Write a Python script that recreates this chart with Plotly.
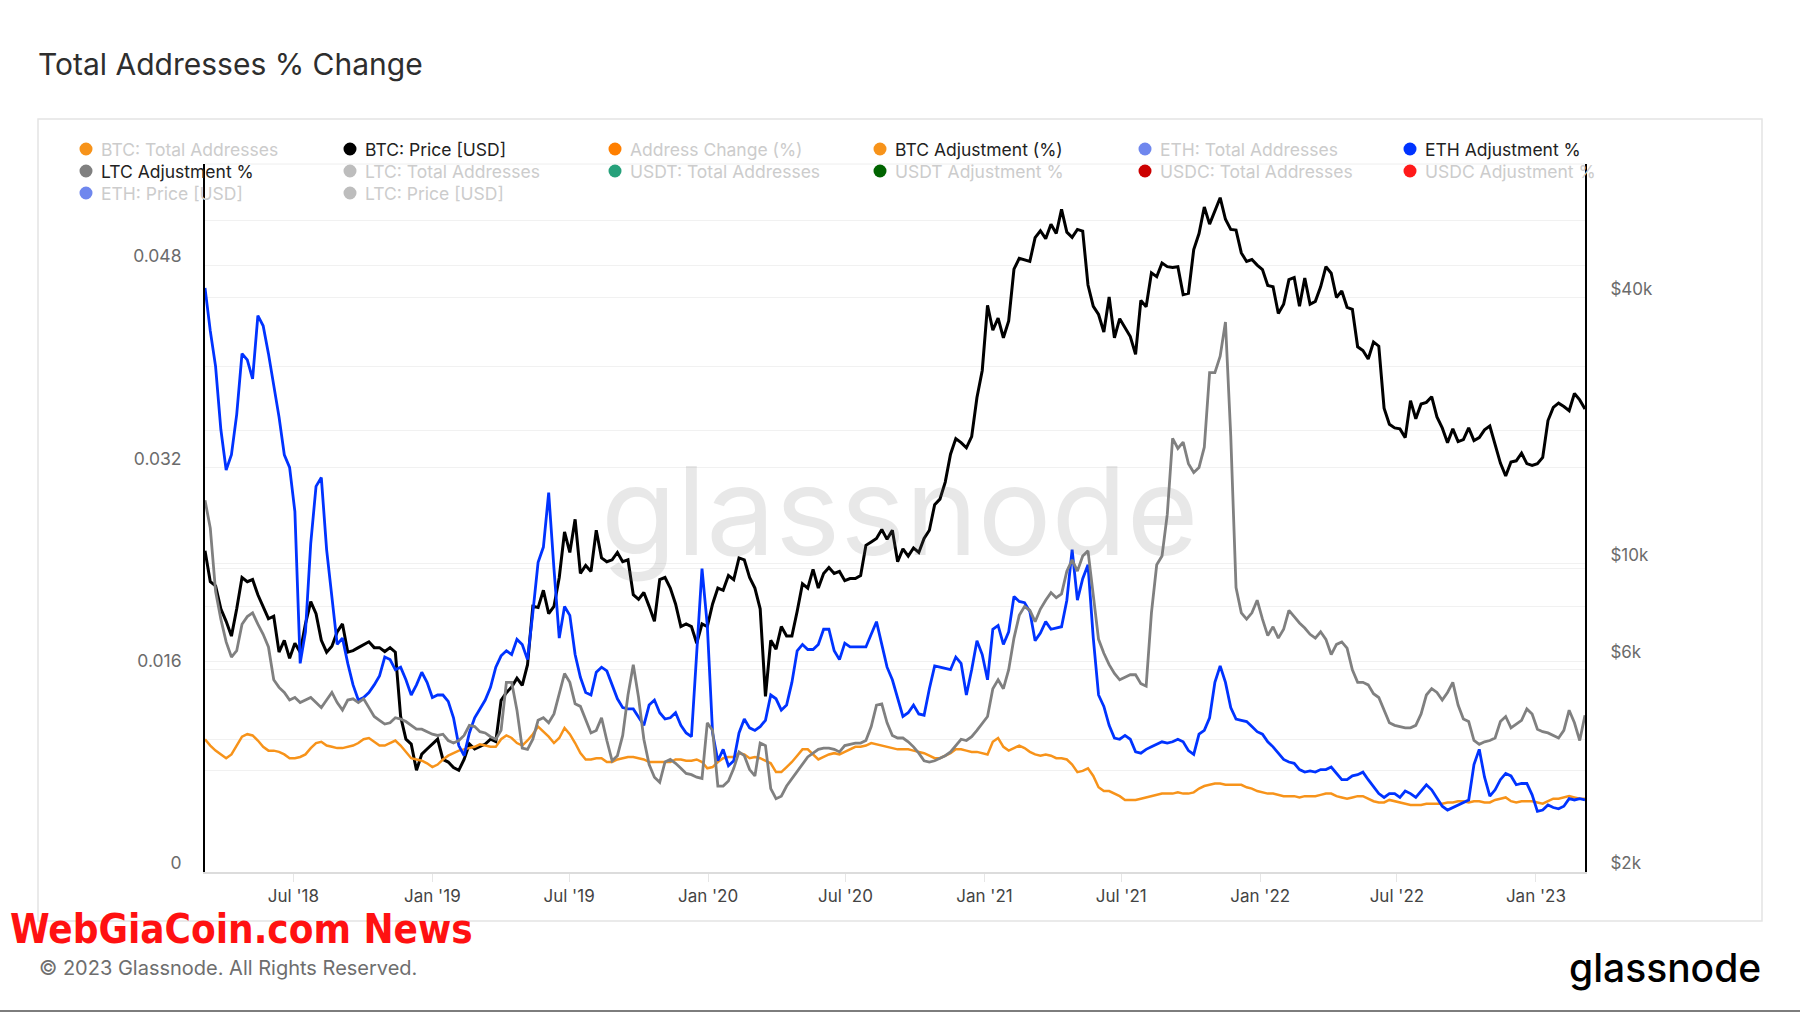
import numpy as np
import pandas as pd
import plotly.graph_objects as go

# ---------------- data (weekly samples) ----------------
START = "2018-03-06"
N_WEEKS = 262
dates = pd.date_range(START, periods=N_WEEKS, freq="7D")

btc_price_usd = [
    # 2018
    10700, 9100, 8900, 7900, 7400, 6850, 7900, 9300, 9100, 9200,
    8500, 8000, 7500, 7600, 6300, 6700, 6100, 6600, 6300, 7300,
    8200, 7700, 6700, 6300, 6500, 7000, 7300, 6300, 6350, 6450,
    6550, 6650, 6450, 6450, 6320, 6450, 6300, 4500, 4000, 3900,
    3400, 3700, 3800,
    # 2019
    3900, 4000, 3600, 3550, 3450, 3400, 3600, 3900, 3800, 3850,
    3900, 4000, 3950, 4900, 5100, 5250, 5500, 5300, 5900, 8000,
    7950, 8700, 7700, 8000, 9300, 11800, 10600, 12600, 9500, 9900,
    9600, 11900, 10300, 10100, 10200, 10600, 10100, 10200, 8500, 8300,
    8600, 8000, 7400, 9200, 9300, 8800, 8100, 7200, 7300, 7200,
    6600, 7300, 7200,
    # 2020
    8100, 8800, 8700, 9400, 9200, 10300, 10200, 9300, 8800, 7900,
    5000, 6700, 6400, 7200, 6850, 6850, 7800, 9000, 8800, 9700,
    8800, 9500, 9800, 9500, 9600, 9150, 9250, 9250, 9400, 11000,
    11200, 11400, 11950, 11350, 11900, 10100, 10800, 10400, 10850, 10600,
    11400, 11900, 13600, 14000, 15300, 17700, 19200, 18800, 18300, 19400,
    23800, 27400,
    # 2021
    38500, 33800, 36000, 32500, 35500, 46500, 49200, 48800, 48400, 54800,
    56800, 54500, 58800, 56000, 63500, 56400, 54900, 57200, 56700, 42800,
    38300, 36700, 33500, 40200, 32500, 35900, 34200, 32700, 29800, 39500,
    38200, 45600, 44700, 48000, 47100, 46900, 47100, 40700, 41000, 51500,
    56000, 64300, 58800, 63000, 67500, 60300, 57200, 57000, 50600, 48400,
    48900, 47500,
    # 2022
    46400, 42700, 42400, 36900, 38700, 44000, 44500, 38300, 44400, 38700,
    39300, 42400, 47100, 45500, 40100, 41500, 38100, 37700, 31000, 30400,
    29100, 31800, 31100, 22500, 20700, 20300, 20200, 19300, 23400, 21300,
    23000, 23200, 23900, 21500, 20300, 18800, 20200, 18900, 19100, 20300,
    19000, 19300, 20100, 20500, 18500, 16900, 15800, 17000, 17100, 17800,
    16850, 16700,
    # 2023
    16850, 17400, 21100, 22600, 23100, 22700, 22200, 24300, 23500, 22400,
]

btc_adjustment_pct = [
    0.0105, 0.0100, 0.0096, 0.0093, 0.0090, 0.0093, 0.0100, 0.0107, 0.0109, 0.0108,
    0.0104, 0.0099, 0.0096, 0.0096, 0.0095, 0.0093, 0.0090, 0.0090, 0.0091, 0.0093,
    0.0098, 0.0102, 0.0103, 0.0100, 0.0099, 0.0098, 0.0098, 0.0099, 0.0100, 0.0102,
    0.0105, 0.0106, 0.0103, 0.0100, 0.0100, 0.0102, 0.0104, 0.0100, 0.0095, 0.0090,
    0.0089, 0.0088, 0.0086, 0.0083, 0.0085, 0.0089, 0.0092, 0.0094, 0.0096, 0.0097,
    0.0098, 0.0099, 0.0101, 0.0100, 0.0099, 0.0099, 0.0105, 0.0108, 0.0106, 0.0102,
    0.0100, 0.0104, 0.0109, 0.0115, 0.0111, 0.0107, 0.0102, 0.0106, 0.0114, 0.0109,
    0.0102, 0.0094, 0.0089, 0.0089, 0.0090, 0.0090, 0.0087, 0.0087, 0.0089, 0.0090,
    0.0091, 0.0091, 0.0090, 0.0089, 0.0087, 0.0087, 0.0087, 0.0087, 0.0087, 0.0089,
    0.0089, 0.0088, 0.0088, 0.0089, 0.0087, 0.0082, 0.0083, 0.0087, 0.0090, 0.0091,
    0.0091, 0.0094, 0.0093, 0.0090, 0.0091, 0.0090, 0.0088, 0.0086, 0.0079, 0.0079,
    0.0083, 0.0087, 0.0092, 0.0097, 0.0097, 0.0093, 0.0089, 0.0091, 0.0093, 0.0094,
    0.0093, 0.0095, 0.0097, 0.0099, 0.0099, 0.0100, 0.0102, 0.0101, 0.0100, 0.0099,
    0.0098, 0.0097, 0.0097, 0.0097, 0.0096, 0.0095, 0.0094, 0.0092, 0.0090, 0.0090,
    0.0092, 0.0094, 0.0097, 0.0097, 0.0096, 0.0095, 0.0095, 0.0094, 0.0093, 0.0103,
    0.0106, 0.0099, 0.0096, 0.0098, 0.0100, 0.0098, 0.0095, 0.0093, 0.0092, 0.0093,
    0.0092, 0.0090, 0.0090, 0.0089, 0.0085, 0.0079, 0.0080, 0.0082, 0.0076, 0.0067,
    0.0064, 0.0064, 0.0062, 0.0060, 0.0057, 0.0057, 0.0057, 0.0058, 0.0059, 0.0060,
    0.0061, 0.0062, 0.0062, 0.0062, 0.0063, 0.0062, 0.0062, 0.0063, 0.0066, 0.0068,
    0.0069, 0.0070, 0.0070, 0.0069, 0.0069, 0.0069, 0.0069, 0.0067, 0.0066, 0.0064,
    0.0063, 0.0062, 0.0062, 0.0061, 0.0060, 0.0060, 0.0060, 0.0059, 0.0060, 0.0060,
    0.0060, 0.0061, 0.0062, 0.0062, 0.0060, 0.0059, 0.0058, 0.0059, 0.0060, 0.0060,
    0.0058, 0.0056, 0.0055, 0.0055, 0.0057, 0.0056, 0.0055, 0.0054, 0.0053, 0.0053,
    0.0053, 0.0054, 0.0054, 0.0054, 0.0054, 0.0055, 0.0055, 0.0056, 0.0056, 0.0055,
    0.0056, 0.0056, 0.0055, 0.0055, 0.0057, 0.0058, 0.0059, 0.0056, 0.0055, 0.0056,
    0.0056, 0.0056, 0.0055, 0.0054, 0.0056, 0.0058, 0.0058, 0.0059, 0.0060, 0.0059,
    0.0058, 0.0058,
]

eth_adjustment_pct = [
    0.0462, 0.0428, 0.0400, 0.0350, 0.0318, 0.0330, 0.0362, 0.0410, 0.0405, 0.0390,
    0.0440, 0.0432, 0.0410, 0.0385, 0.0360, 0.0330, 0.0320, 0.0285, 0.0165, 0.0190,
    0.0260, 0.0305, 0.0312, 0.0255, 0.0215, 0.0180, 0.0185, 0.0165, 0.0148, 0.0136,
    0.0138, 0.0142, 0.0148, 0.0155, 0.0170, 0.0168, 0.0160, 0.0162, 0.0152, 0.0140,
    0.0148, 0.0158, 0.0150, 0.0138, 0.0140, 0.0140, 0.0135, 0.0122, 0.0100, 0.0092,
    0.0110, 0.0122, 0.0129, 0.0136, 0.0146, 0.0162, 0.0171, 0.0175, 0.0172, 0.0184,
    0.0180, 0.0168, 0.0205, 0.0245, 0.0257, 0.0300, 0.0240, 0.0185, 0.0210, 0.0203,
    0.0172, 0.0154, 0.0142, 0.0140, 0.0158, 0.0162, 0.0159, 0.0148, 0.0137, 0.0130,
    0.0129, 0.0129, 0.0122, 0.0116, 0.0132, 0.0136, 0.0126, 0.0121, 0.0122, 0.0126,
    0.0116, 0.0110, 0.0107, 0.0175, 0.0240, 0.0195, 0.0110, 0.0088, 0.0097, 0.0084,
    0.0088, 0.0110, 0.0121, 0.0114, 0.0112, 0.0115, 0.0120, 0.0140, 0.0137, 0.0128,
    0.0132, 0.0150, 0.0175, 0.0180, 0.0176, 0.0176, 0.0180, 0.0192, 0.0192, 0.0175,
    0.0168, 0.0181, 0.0178, 0.0178, 0.0178, 0.0178, 0.0188, 0.0198, 0.0180, 0.0162,
    0.0152, 0.0138, 0.0123, 0.0126, 0.0132, 0.0125, 0.0124, 0.0145, 0.0163, 0.0162,
    0.0161, 0.0160, 0.0170, 0.0165, 0.0140, 0.0160, 0.0183, 0.0172, 0.0152, 0.0192,
    0.0195, 0.0180, 0.0190, 0.0218, 0.0214, 0.0213, 0.0206, 0.0183, 0.0189, 0.0198,
    0.0192, 0.0193, 0.0194, 0.0215, 0.0255, 0.0215, 0.0232, 0.0243, 0.0185, 0.0140,
    0.0131, 0.0116, 0.0106, 0.0105, 0.0108, 0.0105, 0.0095, 0.0094, 0.0097, 0.0099,
    0.0101, 0.0103, 0.0102, 0.0103, 0.0105, 0.0103, 0.0096, 0.0093, 0.0109, 0.0112,
    0.0122, 0.0150, 0.0163, 0.0150, 0.0130, 0.0121, 0.0120, 0.0119, 0.0115, 0.0111,
    0.0109, 0.0103, 0.0099, 0.0094, 0.0089, 0.0087, 0.0086, 0.0081, 0.0079, 0.0080,
    0.0079, 0.0081, 0.0081, 0.0083, 0.0078, 0.0073, 0.0073, 0.0076, 0.0077, 0.0079,
    0.0073, 0.0067, 0.0062, 0.0059, 0.0062, 0.0062, 0.0059, 0.0064, 0.0062, 0.0059,
    0.0064, 0.0069, 0.0065, 0.0059, 0.0052, 0.0049, 0.0051, 0.0053, 0.0055, 0.0057,
    0.0085, 0.0097, 0.0075, 0.0060, 0.0065, 0.0073, 0.0078, 0.0076, 0.0069, 0.0070,
    0.0070, 0.0061, 0.0048, 0.0049, 0.0053, 0.0051, 0.0050, 0.0052, 0.0058, 0.0057,
    0.0058, 0.0057,
]

ltc_adjustment_pct = [
    0.0294, 0.0272, 0.0222, 0.0200, 0.0182, 0.0170, 0.0175, 0.0196, 0.0202, 0.0205,
    0.0196, 0.0188, 0.0178, 0.0152, 0.0146, 0.0142, 0.0136, 0.0138, 0.0134, 0.0136,
    0.0138, 0.0134, 0.0130, 0.0136, 0.0142, 0.0134, 0.0128, 0.0136, 0.0137, 0.0134,
    0.0137, 0.0130, 0.0123, 0.0120, 0.0117, 0.0118, 0.0122, 0.0121, 0.0119, 0.0116,
    0.0113, 0.0113, 0.0111, 0.0109, 0.0108, 0.0109, 0.0104, 0.0102, 0.0104, 0.0108,
    0.0116, 0.0115, 0.0111, 0.0110, 0.0107, 0.0105, 0.0112, 0.0150, 0.0150, 0.0128,
    0.0098, 0.0097, 0.0105, 0.0120, 0.0122, 0.0118, 0.0125, 0.0140, 0.0157, 0.0150,
    0.0133, 0.0131, 0.0120, 0.0110, 0.0112, 0.0122, 0.0104, 0.0088, 0.0092, 0.0108,
    0.0140, 0.0164, 0.0138, 0.0105, 0.0085, 0.0075, 0.0071, 0.0087, 0.0089, 0.0086,
    0.0082, 0.0078, 0.0077, 0.0075, 0.0074, 0.0118, 0.0112, 0.0068, 0.0068, 0.0072,
    0.0082, 0.0095, 0.0092, 0.0081, 0.0076, 0.0102, 0.0100, 0.0066, 0.0058, 0.0060,
    0.0068, 0.0074, 0.0080, 0.0086, 0.0091, 0.0094, 0.0097, 0.0098, 0.0098, 0.0097,
    0.0095, 0.0100, 0.0101, 0.0102, 0.0102, 0.0104, 0.0115, 0.0132, 0.0133, 0.0118,
    0.0108, 0.0106, 0.0106, 0.0103, 0.0099, 0.0094, 0.0088, 0.0087, 0.0088, 0.0090,
    0.0092, 0.0095, 0.0100, 0.0105, 0.0104, 0.0107, 0.0112, 0.0118, 0.0123, 0.0145,
    0.0152, 0.0145, 0.0160, 0.0185, 0.0203, 0.0210, 0.0207, 0.0198, 0.0208, 0.0215,
    0.0221, 0.0217, 0.0220, 0.0238, 0.0247, 0.0238, 0.0250, 0.0254, 0.0220, 0.0184,
    0.0173, 0.0164, 0.0157, 0.0152, 0.0154, 0.0156, 0.0156, 0.0149, 0.0147, 0.0205,
    0.0243, 0.0250, 0.0283, 0.0343, 0.0335, 0.0340, 0.0323, 0.0316, 0.0320, 0.0336,
    0.0395, 0.0395, 0.0408, 0.0435, 0.0345, 0.0225, 0.0205, 0.0200, 0.0205, 0.0215,
    0.0200, 0.0187, 0.0194, 0.0185, 0.0192, 0.0207, 0.0202, 0.0197, 0.0193, 0.0188,
    0.0185, 0.0190, 0.0184, 0.0172, 0.0180, 0.0182, 0.0177, 0.0160, 0.0150, 0.0150,
    0.0148, 0.0141, 0.0138, 0.0128, 0.0118, 0.0116, 0.0115, 0.0114, 0.0114, 0.0116,
    0.0125, 0.0140, 0.0145, 0.0142, 0.0136, 0.0142, 0.0150, 0.0132, 0.0121, 0.0119,
    0.0104, 0.0101, 0.0103, 0.0104, 0.0106, 0.0119, 0.0123, 0.0114, 0.0117, 0.0120,
    0.0129, 0.0125, 0.0113, 0.0111, 0.0110, 0.0108, 0.0106, 0.0112, 0.0128, 0.0118,
    0.0104, 0.0124,
]

left_tick_values = [0, 0.008, 0.016, 0.024, 0.032, 0.040, 0.048, 0.056]
left_tick_text = ["0", "", "0.016", "", "0.032", "", "0.048", ""]
right_tick_values = [2000, 4000, 6000, 8000, 10000, 20000, 40000, 60000]
right_tick_text = ["$2k", "", "$6k", "", "$10k", "", "$40k", ""]

legend_labels = [
    "BTC: Total Addresses", "BTC: Price [USD]", "Address Change (%)",
    "BTC Adjustment (%)", "ETH: Total Addresses", "ETH Adjustment %",
    "LTC Adjustment %", "LTC: Total Addresses", "USDT: Total Addresses",
    "USDT Adjustment %", "USDC: Total Addresses", "USDC Adjustment %",
    "ETH: Price [USD]", "LTC: Price [USD]",
]
legend_colors = [
    "#f7931a", "#000000", "#ff7f00",
    "#f7931a", "#6f87ee", "#0033ff",
    "#808080", "#bdbdbd", "#26a17b",
    "#006400", "#cc0000", "#ff1a1a",
    "#6f87ee", "#bdbdbd",
]
legend_active = [False, True, False, True, False, True,
                 True, False, False, False, False, False,
                 False, False]

for arr in (btc_price_usd, btc_adjustment_pct, eth_adjustment_pct, ltc_adjustment_pct):
    assert len(arr) == N_WEEKS, len(arr)

# ---------------- geometry ----------------
W, H = 1800, 1013
PL, PR, PT, PB = 205, 1585, 164, 872


def px(x):
    return (x - PL) / (PR - PL)


def py(y):
    return (PB - y) / (PB - PT)


FONT = "Inter"
ORANGE = "#f7931a"
BLUE = "#0033ff"
GRAY = "#808080"

fig = go.Figure()

# price on the base (log, right) axis so the % series draw above it
fig.add_trace(go.Scatter(x=dates, y=btc_price_usd, yaxis="y", mode="lines",
                         line=dict(color="#000000", width=3),
                         name="BTC: Price [USD]", showlegend=False))
fig.add_trace(go.Scatter(x=dates, y=btc_adjustment_pct, yaxis="y2", mode="lines",
                         line=dict(color=ORANGE, width=2.5),
                         name="BTC Adjustment (%)", showlegend=False))
fig.add_trace(go.Scatter(x=dates, y=eth_adjustment_pct, yaxis="y2", mode="lines",
                         line=dict(color=BLUE, width=2.8),
                         name="ETH Adjustment %", showlegend=False))
fig.add_trace(go.Scatter(x=dates, y=ltc_adjustment_pct, yaxis="y2", mode="lines",
                         line=dict(color=GRAY, width=2.8),
                         name="LTC Adjustment %", showlegend=False))

shapes = []
annotations = []

# outer card
shapes.append(dict(type="rect", xref="paper", yref="paper",
                   x0=px(38), x1=px(1762), y0=py(921), y1=py(119),
                   line=dict(color="#e4e4e4", width=1.5), fillcolor="rgba(0,0,0,0)",
                   layer="below"))
# top border line of the plot area
shapes.append(dict(type="line", xref="paper", yref="paper", x0=0, x1=1, y0=1, y1=1,
                   line=dict(color="#eeeeee", width=1), layer="below"))
# page bottom rule
shapes.append(dict(type="line", xref="paper", yref="paper",
                   x0=px(0), x1=px(1800), y0=py(1011), y1=py(1011),
                   line=dict(color="#7d7d7d", width=2)))

# manual legend grid
cols_x = [86, 350, 615, 880, 1145, 1410]
rows_y = [149, 171, 193]
for i, (lab, col, act) in enumerate(zip(legend_labels, legend_colors, legend_active)):
    r, c = divmod(i, 6)
    cx, cy = cols_x[c], rows_y[r]
    shapes.append(dict(type="circle", xref="paper", yref="paper",
                       xsizemode="pixel", ysizemode="pixel",
                       xanchor=px(cx), yanchor=py(cy),
                       x0=-6.5, x1=6.5, y0=-6.5, y1=6.5,
                       fillcolor=col, line=dict(width=0)))
    annotations.append(dict(text=lab, x=px(cx + 13), y=py(cy), xref="paper", yref="paper",
                            xanchor="left", yanchor="middle", showarrow=False,
                            font=dict(family=FONT, size=17.5,
                                      color="#222222" if act else "#cccccc")))

# title
annotations.append(dict(text="Total Addresses % Change", x=px(36), y=py(64),
                        xref="paper", yref="paper", xanchor="left", yanchor="middle",
                        showarrow=False, font=dict(family=FONT, size=30, color="#2e2e2e")))
# watermark
annotations.append(dict(text="glassnode", x=px(900), y=py(511), xref="paper", yref="paper",
                        xanchor="center", yanchor="middle", showarrow=False,
                        font=dict(family=FONT, size=123, color="rgba(120,120,120,0.17)")))
# footer
annotations.append(dict(text="<b>WebGiaCoin.com News</b>", x=px(8), y=py(929),
                        xref="paper", yref="paper", xanchor="left", yanchor="middle",
                        showarrow=False,
                        font=dict(family="DejaVu Sans Condensed, Roboto Condensed, sans-serif",
                                  size=40, color="#ff1111")))
annotations.append(dict(text="© 2023 Glassnode. All Rights Reserved.", x=px(37), y=py(968),
                        xref="paper", yref="paper", xanchor="left", yanchor="middle",
                        showarrow=False, font=dict(family=FONT, size=20, color="#6e6e6e")))
annotations.append(dict(text="glassnode", x=px(1763), y=py(967), xref="paper", yref="paper",
                        xanchor="right", yanchor="middle", showarrow=False,
                        font=dict(family=FONT, size=39, color="#000000", weight=500)))

fig.update_layout(
    width=W, height=H,
    margin=dict(l=PL, r=W - PR, t=PT, b=H - PB, pad=0),
    paper_bgcolor="#ffffff", plot_bgcolor="#ffffff",
    showlegend=False,
    font=dict(family=FONT),
    xaxis=dict(
        type="date", range=[dates[0], dates[-1]],
        tick0="2018-07-01", dtick="M6", tickformat="%b '%y",
        ticks="outside", ticklen=8, tickwidth=1, tickcolor="#e6e6e6",
        showgrid=False, zeroline=False,
        showline=True, linecolor="#dcdcdc", linewidth=1.5,
        tickfont=dict(family=FONT, size=17, color="#444444"),
    ),
    yaxis=dict(
        type="log", side="right",
        range=[np.log10(2000), 4.9057],
        tickvals=right_tick_values, ticktext=right_tick_text,
        showgrid=True, gridcolor="#f1f1f1", gridwidth=1,
        showline=True, linecolor="#000000", linewidth=2,
        ticks="", zeroline=False,
        ticklabelshift=-9, ticklabelstandoff=20,
        tickfont=dict(family=FONT, size=17, color="#6b6b6b"),
    ),
    yaxis2=dict(
        overlaying="y", side="left",
        range=[0, 0.056],
        tickvals=left_tick_values, ticktext=left_tick_text,
        showgrid=True, gridcolor="#f1f1f1", gridwidth=1,
        showline=True, linecolor="#000000", linewidth=2,
        ticks="", zeroline=False,
        ticklabelshift=-9, ticklabelstandoff=18,
        tickfont=dict(family=FONT, size=17.5, color="#6b6b6b"),
    ),
    shapes=shapes,
    annotations=annotations,
)

fig.write_html("out.html")
